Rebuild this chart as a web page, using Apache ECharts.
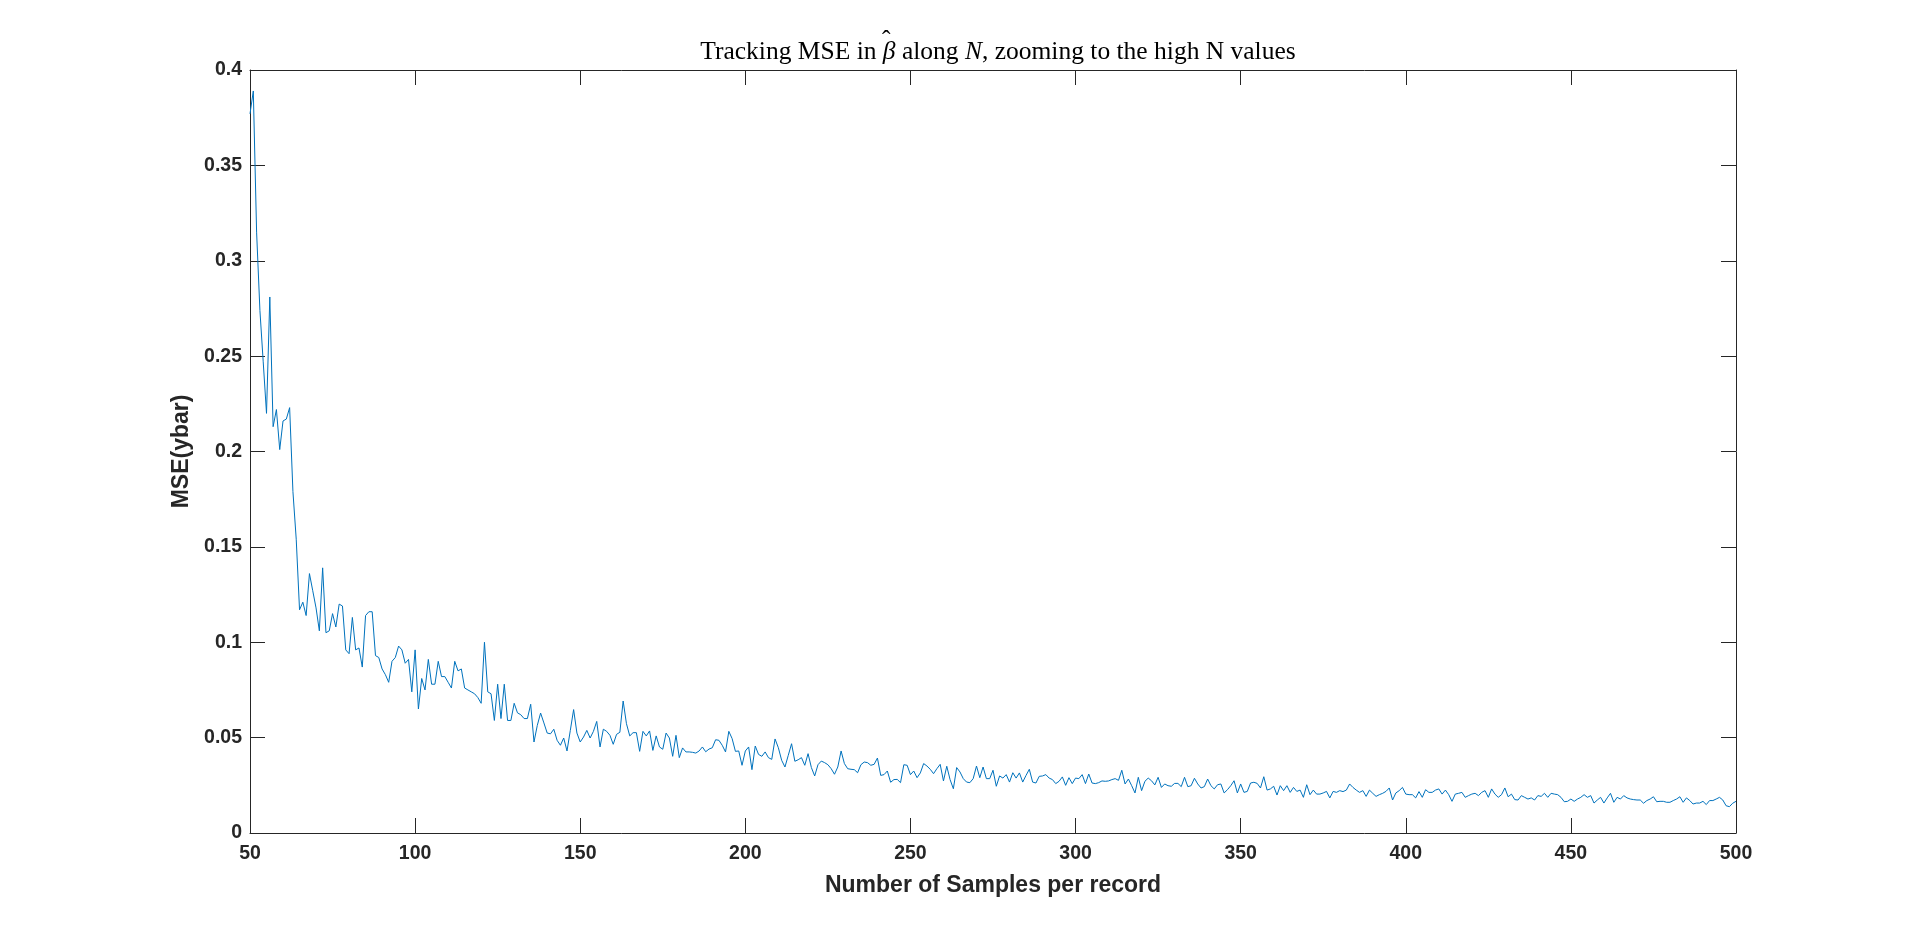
<!DOCTYPE html>
<html>
<head>
<meta charset="utf-8">
<script src="https://cdn.jsdelivr.net/npm/echarts@6/dist/echarts.min.js"></script>
<style>
html,body{margin:0;padding:0;background:#fff;}
#chart{width:1920px;height:936px;}
</style>
</head>
<body>
<div id="chart"></div>
<script>
// First N value; one MSE value per N (50..500)
const N_START = 50;
const xTicks = [50, 100, 150, 200, 250, 300, 350, 400, 450, 500];
const yTicks = [0, 0.05, 0.1, 0.15, 0.2, 0.25, 0.3, 0.35, 0.4];

const mse50to133 = [
0.377,0.389,0.315,0.274,0.247,0.220,0.281,0.213,0.222,0.201,
0.216,0.217,0.223,0.179,0.154,0.117,0.121,0.114,0.136,0.127,
0.118,0.106,0.139,0.105,0.106,0.115,0.108,0.120,0.119,0.096,
0.094,0.113,0.096,0.097,0.087,0.114,0.116,0.116,0.093,0.092,
0.086,0.083,0.079,0.090,0.092,0.098,0.096,0.089,0.091,0.074,
0.096,0.065,0.081,0.075,0.091,0.078,0.078,0.090,0.082,0.082,
0.079,0.076,0.090,0.085,0.086,0.076,0.075,0.074,0.073,0.071,
0.068,0.100,0.074,0.073,0.059,0.078,0.060,0.078,0.059,0.059,
0.068,0.063,0.062,0.060
];
const mse134to222 = [
0.060,0.0675,0.0477,0.0564,0.0629,0.0577,0.0524,0.052,0.0544,0.0486,
0.046,0.0498,0.043,0.0538,0.0647,0.0524,0.0477,0.0503,0.0538,0.0498,
0.0533,0.0585,0.0451,0.0544,0.0533,0.0512,0.0465,0.0517,0.0528,0.0692,
0.0573,0.0509,0.0526,0.0526,0.0428,0.0533,0.0509,0.0535,0.0433,0.0509,
0.0451,0.0439,0.0524,0.0498,0.0402,0.0512,0.0395,0.0446,0.0425,0.0425,
0.0423,0.0419,0.043,0.0451,0.0426,0.044,0.0447,0.0489,0.0486,0.046,
0.0425,0.0533,0.0495,0.0428,0.043,0.0355,0.043,0.0451,0.0332,0.0456,
0.0412,0.0402,0.0425,0.0395,0.0386,0.0493,0.0447,0.0381,0.0346,0.0407,
0.0468,0.0376,0.0384,0.0395,0.0355,0.0416,0.0343,0.0299,0.0358
];
const mse223to314 = [
0.0377,0.0369,0.0358,0.0337,0.0308,0.0346,0.043,0.0364,0.0337,0.0334,
0.0332,0.0316,0.0358,0.0372,0.0369,0.0355,0.036,0.0393,0.0302,0.0306,
0.0325,0.0266,0.028,0.0281,0.0264,0.0358,0.0355,0.0306,0.0325,0.029,
0.0315,0.0364,0.0351,0.0334,0.0311,0.0337,0.036,0.0273,0.035,0.028,
0.0232,0.0343,0.032,0.0285,0.0267,0.0264,0.0285,0.0351,0.029,0.0346,
0.0285,0.0285,0.0329,0.0245,0.0299,0.0288,0.0306,0.0267,0.0316,0.0288,
0.0315,0.0267,0.0302,0.0334,0.0267,0.0262,0.0297,0.0299,0.0306,0.0288,
0.028,0.0259,0.0271,0.0294,0.025,0.029,0.0259,0.0288,0.0285,0.0306,
0.0259,0.0309,0.0262,0.0259,0.0264,0.0273,0.0271,0.0273,0.028,0.0285,
0.0276,0.0329
];
const mse315to406 = [
0.0257,0.0283,0.0248,0.021,0.0292,0.0222,0.0271,0.0288,0.0274,0.0252,
0.0292,0.0239,0.0257,0.0248,0.0245,0.026,0.026,0.0243,0.0292,0.0243,
0.0248,0.0287,0.0257,0.0236,0.0243,0.0283,0.0248,0.0231,0.0253,0.0257,
0.021,0.0227,0.0248,0.0274,0.021,0.0257,0.0213,0.0218,0.0262,0.0266,
0.026,0.0236,0.0295,0.0225,0.0231,0.0245,0.0199,0.0248,0.0222,0.0248,
0.0213,0.0239,0.0218,0.0225,0.0187,0.0253,0.0201,0.0225,0.0204,0.0204,
0.021,0.0218,0.0184,0.0218,0.0213,0.0222,0.0217,0.0225,0.0257,0.0239,
0.0225,0.0213,0.0222,0.0192,0.0225,0.0208,0.0192,0.0201,0.0208,0.0218,
0.0236,0.0173,0.021,0.0222,0.0239,0.0204,0.0201,0.0201,0.0184,0.0217,
0.0187,0.0227
];
const mse407to500 = [
0.0213,0.0213,0.0225,0.0231,0.0204,0.0225,0.0201,0.0166,0.0204,0.0208,
0.0213,0.0187,0.0196,0.0204,0.0208,0.0196,0.0213,0.0222,0.0187,0.0231,
0.0204,0.0187,0.0201,0.0236,0.0190,0.0204,0.0175,0.0173,0.0196,0.0187,
0.0178,0.0184,0.0173,0.0196,0.0192,0.0208,0.0187,0.0208,0.0204,0.0201,
0.0187,0.0164,0.0166,0.0178,0.0166,0.0178,0.0187,0.0201,0.0187,0.0196,
0.0157,0.0173,0.0187,0.0157,0.0184,0.0208,0.0161,0.0187,0.0178,0.0196,
0.0184,0.0178,0.0175,0.0173,0.0173,0.0156,0.0170,0.0178,0.0190,0.0164,
0.0166,0.0166,0.0161,0.0161,0.0170,0.0178,0.0190,0.0161,0.0184,0.0170,
0.0152,0.0157,0.0157,0.0166,0.0149,0.0170,0.0170,0.0178,0.0187,0.0173,
0.0143,0.0138,0.0156,0.0166
];

const mse = [].concat(mse50to133, mse134to222, mse223to314, mse315to406, mse407to500);
const seriesData = mse.map((v, i) => [N_START + i, v]);

const AX = '#262626';
const TITLE_FS = 25.5;
const TITLE_CX = 993;
const TITLE_TOP = 34;

// measure title pieces so the hat sits over beta
const mc = document.createElement('canvas').getContext('2d');
function tw(t, font) { mc.font = font; return mc.measureText(t).width; }
const fN = TITLE_FS + 'px "Liberation Serif"';
const fI = 'italic ' + TITLE_FS + 'px "Liberation Serif"';
const wPre = tw('Tracking MSE in ', fN);
const wBeta = tw('β', fI);
const wHat = tw('ˆ', fN);
const wTot = wPre + wBeta + tw(' along ', fN) + tw('N', fI) + tw(', zooming to the high N values', fN);
const hatX = TITLE_CX - wTot / 2 + wPre + wBeta / 2 + 2 - wHat / 2;

const chart = echarts.init(document.getElementById('chart'), null, {renderer: 'canvas'});

const baseX = {
  type: 'value', min: xTicks[0], max: xTicks[xTicks.length - 1], interval: 50,
  axisLine: {show: true, onZero: false, lineStyle: {color: AX, width: 1}},
  axisTick: {show: true, inside: true, length: 15, lineStyle: {color: AX, width: 1}},
  splitLine: {show: false}
};
const baseY = {
  type: 'value', min: yTicks[0], max: yTicks[yTicks.length - 1], interval: 0.05,
  axisLine: {show: true, onZero: false, lineStyle: {color: AX, width: 1}},
  axisTick: {show: true, inside: true, length: 15, lineStyle: {color: AX, width: 1}},
  splitLine: {show: false}
};

chart.setOption({
  animation: false,
  backgroundColor: '#ffffff',
  title: {
    text: 'Tracking MSE in {i|β} along {i|N}, zooming to the high N values',
    left: TITLE_CX, top: TITLE_TOP, textAlign: 'center',
    textStyle: {
      fontFamily: 'Liberation Serif', fontSize: TITLE_FS, fontWeight: 'normal', color: '#000',
      rich: {
        i: {fontFamily: 'Liberation Serif', fontSize: TITLE_FS, fontStyle: 'italic', color: '#000'}
      }
    }
  },
  graphic: [{
    type: 'text', left: hatX, top: TITLE_TOP - 6, silent: true,
    style: {text: 'ˆ', font: TITLE_FS + 'px "Liberation Serif"', fill: '#000', textAlign: 'left'}
  }],
  grid: {left: 250, right: 184, top: 70, bottom: 103, containLabel: false},
  xAxis: [
    Object.assign({}, baseX, {
      position: 'bottom',
      name: 'Number of Samples per record', nameLocation: 'middle', nameGap: 41,
      nameTextStyle: {fontFamily: 'Liberation Sans', fontSize: 23, fontWeight: 'bold', color: AX},
      axisLabel: {show: true, margin: 11, fontFamily: 'Liberation Sans', fontSize: 19.5, fontWeight: 'bold', color: AX}
    }),
    Object.assign({}, baseX, {position: 'top', axisLabel: {show: false}})
  ],
  yAxis: [
    Object.assign({}, baseY, {
      position: 'left',
      name: 'MSE(ybar)', nameLocation: 'middle', nameGap: 46, nameRotate: 90,
      nameTextStyle: {fontFamily: 'Liberation Sans', fontSize: 23, fontWeight: 'bold', color: AX},
      axisLabel: {show: true, margin: 8, fontFamily: 'Liberation Sans', fontSize: 19.5, fontWeight: 'bold', color: AX}
    }),
    Object.assign({}, baseY, {position: 'right', axisLabel: {show: false}})
  ],
  series: [{
    type: 'line', xAxisIndex: 0, yAxisIndex: 0,
    data: seriesData, showSymbol: false, symbol: 'none',
    lineStyle: {color: '#0072BD', width: 1}, itemStyle: {color: '#0072BD'},
    silent: true
  }]
});
</script>
</body>
</html>
